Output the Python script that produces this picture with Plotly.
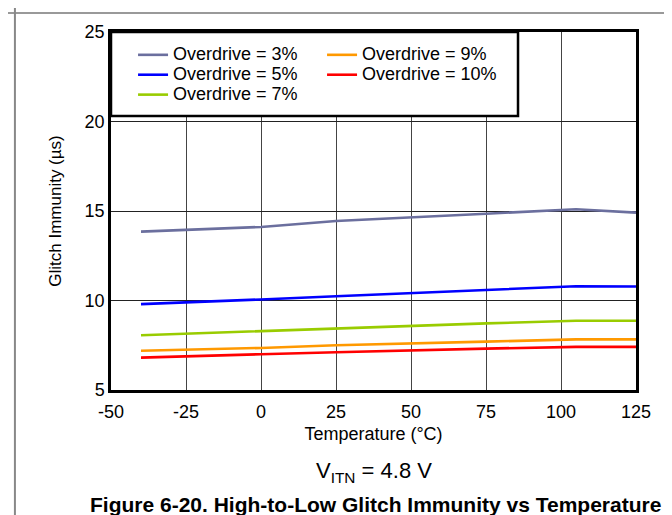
import plotly.graph_objects as go

temps = [-40, -25, 0, 25, 50, 75, 105, 125]
od3 = [13.85, 13.94, 14.11, 14.44, 14.63, 14.85, 15.1, 14.91]
od5 = [9.80, 9.89, 10.06, 10.24, 10.41, 10.59, 10.80, 10.78]
od7 = [8.06, 8.15, 8.30, 8.46, 8.59, 8.72, 8.87, 8.87]
od9 = [7.19, 7.24, 7.35, 7.50, 7.59, 7.70, 7.83, 7.83]
od10 = [6.81, 6.89, 7.00, 7.11, 7.22, 7.31, 7.41, 7.41]

x_ticks = [-50, -25, 0, 25, 50, 75, 100, 125]
y_ticks = [5, 10, 15, 20, 25]

# legend order arranged so horizontal wrapping gives two columns
series = [
    ("Overdrive = 3%", od3, "#6b6f9e"),
    ("Overdrive = 9%", od9, "#ff9900"),
    ("Overdrive = 5%", od5, "#0000ff"),
    ("Overdrive = 10%", od10, "#ff0000"),
    ("Overdrive = 7%", od7, "#99cc00"),
]

FONT = "Liberation Sans, Arial, Helvetica, sans-serif"

fig = go.Figure()
for name, vals, col in series:
    fig.add_trace(go.Scatter(
        x=temps, y=vals, mode="lines", name=f"<span style='font-size:18px'>{name}</span>",
        line=dict(color=col, width=2.6),
    ))

fig.update_layout(
    width=672, height=515,
    margin=dict(l=103, r=44, t=24, b=133),
    paper_bgcolor="white", plot_bgcolor="white",
    font=dict(family=FONT, size=18, color="black"),
    showlegend=True,
    legend=dict(
        orientation="h", x=0.042, y=0.978, xanchor="left", yanchor="top",
        bgcolor="rgba(0,0,0,0)", borderwidth=0, entrywidth=144,
        font=dict(family=FONT, size=13, color="black"),
    ),
    xaxis=dict(
        range=[-50, 125], tickvals=x_ticks, ticktext=[str(v) for v in x_ticks],
        showgrid=True, gridcolor="#444", gridwidth=1,
        showline=True, linecolor="black", linewidth=2.5, mirror=True,
        ticks="", zeroline=False, tickfont=dict(size=18), ticklabelstandoff=4,
        title=dict(text="Temperature (°C)", font=dict(size=18), standoff=7),
    ),
    yaxis=dict(
        range=[5, 25], tickvals=y_ticks, ticktext=[str(v) for v in y_ticks],
        showgrid=True, gridcolor="#222", gridwidth=1,
        showline=True, linecolor="black", linewidth=2.5, mirror=True,
        ticks="", zeroline=False, tickfont=dict(size=18),
        title=dict(text="Glitch Immunity (µs)", font=dict(size=17), standoff=19),
    ),
    shapes=[
        dict(type="rect", xref="x", yref="y", x0=-50, x1=85.67, y0=20.31, y1=25,
             fillcolor="white", line=dict(color="black", width=2.5), layer="between"),
        dict(type="line", xref="paper", yref="paper", x0=-0.2, x1=1.1, y0=1.053, y1=1.053,
             line=dict(color="#777", width=1.5)),
        dict(type="line", xref="paper", yref="paper", x0=-0.183, x1=-0.183, y0=-0.372, y1=1.07,
             line=dict(color="#888", width=2)),
    ],
    annotations=[
        dict(text="V<sub>ITN</sub> = 4.8 V", xref="paper", yref="paper", x=0.5, y=-0.229,
             xanchor="center", yanchor="middle", showarrow=False, font=dict(size=22)),
        dict(text="Figure 6-20. High-to-Low Glitch Immunity vs Temperature", xref="paper", yref="paper",
             x=0.503, y=-0.321, xanchor="center", yanchor="middle", showarrow=False,
             font=dict(size=21, weight="bold")),
    ],
)

fig.write_html("out.html")
